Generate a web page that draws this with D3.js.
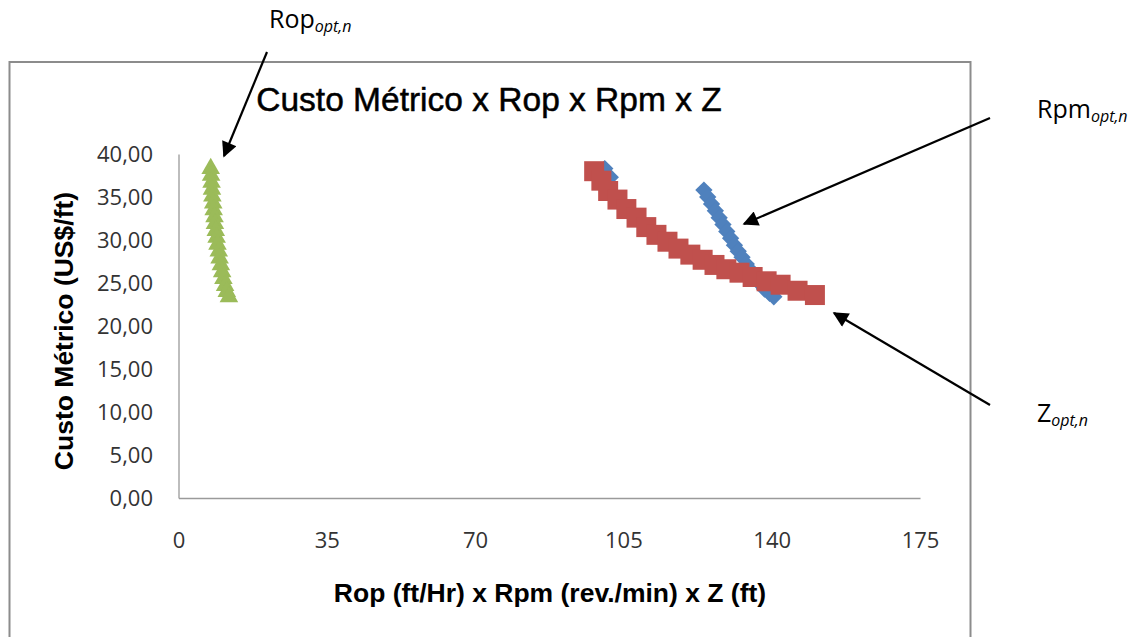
<!DOCTYPE html>
<html>
<head>
<meta charset="utf-8">
<script src="https://cdn.jsdelivr.net/npm/d3@7"></script>
<style>
  html, body { margin: 0; padding: 0; background: #ffffff; }
  svg { display: block; }
</style>
</head>
<body>
<svg id="chart" width="1147" height="637"></svg>
<script>
// ---- data ----
const chartTitle = "Custo Métrico x Rop x Rpm x Z";
const xAxisTitle = "Rop (ft/Hr) x Rpm (rev./min) x Z (ft)";
const yAxisTitle = "Custo Métrico (US$/ft)";
const xTicks = [0, 35, 70, 105, 140, 175];
const yTicks = [0, 5, 10, 15, 20, 25, 30, 35, 40];

// Rpm_opt,n (blue diamonds)
const rpmX = [100.6, 101.9, 124.0, 124.9, 125.8, 126.7, 127.6, 128.5, 129.4, 130.3, 131.2, 132.1, 133.0, 134.0, 135.0, 136.0, 137.1, 138.3, 139.5, 140.5];
const rpmY = [38.3, 37.3, 35.8, 35.0, 34.2, 33.4, 32.6, 31.8, 31.0, 30.2, 29.4, 28.7, 28.0, 27.2, 26.5, 25.7, 25.0, 24.3, 23.8, 23.4];
// Z_opt,n (red squares)
const zX = [98.1, 99.8, 101.4, 103.6, 105.7, 108.1, 110.4, 112.8, 115.4, 118.0, 120.8, 123.7, 126.5, 129.3, 132.4, 135.5, 138.8, 142.1, 146.1, 150.2];
const zY = [38.0, 36.9, 35.7, 34.7, 33.6, 32.6, 31.5, 30.6, 29.8, 29.0, 28.3, 27.7, 27.1, 26.6, 26.2, 25.7, 25.2, 24.8, 24.1, 23.6];
// Rop_opt,n (green triangles)
const ropX = [7.6, 7.7, 7.8, 7.9, 8.0, 8.2, 8.3, 8.5, 8.6, 8.8, 9.0, 9.2, 9.5, 9.7, 10.0, 10.3, 10.6, 11.0, 11.4, 11.9];
const ropY = [38.3, 37.5, 36.7, 35.9, 35.1, 34.3, 33.5, 32.7, 31.9, 31.1, 30.3, 29.5, 28.7, 27.9, 27.1, 26.3, 25.5, 24.7, 24.0, 23.4];

const series = [
  { name: "Rpm", xs: rpmX, ys: rpmY, color: "#4F81BD", shape: "diamond" },
  { name: "Z",   xs: zX,   ys: zY,   color: "#C0504D", shape: "square" },
  { name: "Rop", xs: ropX, ys: ropY, color: "#9BBB59", shape: "triangle" }
];

// ---- layout ----
const svg = d3.select("#chart");
const tickFont = "'Open Sans', 'Noto Sans', sans-serif";
const boldFont = "'Liberation Sans', Arial, sans-serif";

const x = d3.scaleLinear().domain([0, 175]).range([178.5, 920]);
const y = d3.scaleLinear().domain([0, 40]).range([498, 154]);

// outer chart frame
svg.append("rect")
  .attr("x", 9.5).attr("y", 62).attr("width", 961).attr("height", 640)
  .attr("fill", "none").attr("stroke", "#8c8c8c").attr("stroke-width", 2);

// title
svg.append("text")
  .attr("x", 489).attr("y", 111)
  .attr("text-anchor", "middle")
  .attr("font-family", boldFont)
  .attr("font-size", 33.5)
  .attr("fill", "#000")
  .attr("stroke", "#000")
  .attr("stroke-width", 0.5)
  .text(chartTitle);

// axes
const fmt = d => d.toFixed(2).replace(".", ",");
const yAxis = svg.append("g")
  .attr("transform", `translate(${x(0)},0)`)
  .call(d3.axisLeft(y).tickValues(yTicks).tickSize(0).tickPadding(25.5).tickFormat(fmt));
const xAxis = svg.append("g")
  .attr("transform", `translate(0,${y(0)})`)
  .call(d3.axisBottom(x).tickValues(xTicks).tickSize(0).tickPadding(34).tickFormat(d3.format("d")));

[xAxis, yAxis].forEach(g => {
  g.select(".domain").attr("stroke", "#9a9a9a").attr("stroke-width", 1.3);
  g.selectAll("text")
    .attr("font-family", tickFont)
    .attr("font-size", 22)
    .attr("fill", "#333");
});

// axis titles
svg.append("text")
  .attr("x", 550).attr("y", 602)
  .attr("text-anchor", "middle")
  .attr("font-family", boldFont)
  .attr("font-weight", "bold")
  .attr("font-size", 26.5)
  .attr("fill", "#000")
  .text(xAxisTitle);

svg.append("text")
  .attr("transform", "translate(73,331) rotate(-90)")
  .attr("text-anchor", "middle")
  .attr("font-family", boldFont)
  .attr("font-weight", "bold")
  .attr("font-size", 26.5)
  .attr("fill", "#000")
  .text(yAxisTitle);

// markers
const symbolFor = {
  square: d3.symbol().type(d3.symbolSquare).size(400),
  diamond: d3.symbol().type(d3.symbolSquare).size(150),
  triangle: d3.symbol().type(d3.symbolTriangle).size(150)
};
series.forEach(s => {
  const pts = s.xs.map((v, i) => ({ x: v, y: s.ys[i] }));
  svg.append("g")
    .selectAll("path")
    .data(pts)
    .join("path")
    .attr("d", symbolFor[s.shape])
    .attr("transform", d => `translate(${x(d.x)},${y(d.y)})` + (s.shape === "diamond" ? " rotate(45)" : ""))
    .attr("fill", s.color);
});

// annotations
const defs = svg.append("defs");
defs.append("marker")
  .attr("id", "arrow")
  .attr("viewBox", "0 0 10 10")
  .attr("refX", 9).attr("refY", 5)
  .attr("markerWidth", 8).attr("markerHeight", 7)
  .attr("markerUnits", "strokeWidth")
  .attr("orient", "auto")
  .append("path")
  .attr("d", "M0,0 L10,5 L0,10 Z")
  .attr("fill", "#000");

const annotations = [
  { main: "Rop", sub: "opt,n", tx: 269, ty: 28, x1: 267, y1: 52, x2: 224, y2: 156 },
  { main: "Rpm", sub: "opt,n", tx: 1037, ty: 118, x1: 990, y1: 118, x2: 744, y2: 224 },
  { main: "Z",   sub: "opt,n", tx: 1037, ty: 422, x1: 990, y1: 405, x2: 834, y2: 313 }
];
annotations.forEach(a => {
  svg.append("line")
    .attr("x1", a.x1).attr("y1", a.y1).attr("x2", a.x2).attr("y2", a.y2)
    .attr("stroke", "#000").attr("stroke-width", 2.2)
    .attr("marker-end", "url(#arrow)");
  const t = svg.append("text")
    .attr("x", a.tx).attr("y", a.ty)
    .attr("font-family", tickFont)
    .attr("font-size", 25)
    .attr("fill", "#000");
  t.append("tspan").text(a.main);
  t.append("tspan")
    .attr("font-size", 16)
    .attr("font-style", "italic")
    .attr("dy", 3.5)
    .text(a.sub);
});
</script>
</body>
</html>
